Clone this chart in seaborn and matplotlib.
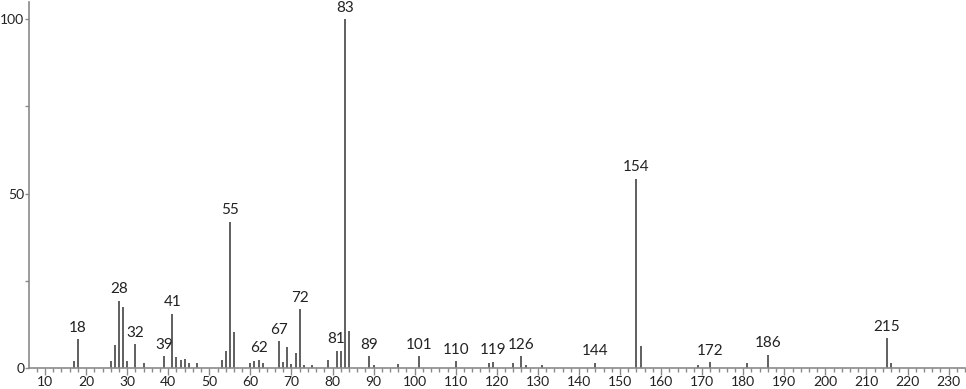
import matplotlib
matplotlib.use("Agg")
import matplotlib.pyplot as plt
import seaborn as sns
import numpy as np
import pandas as pd
from matplotlib.ticker import MultipleLocator

mz = [17, 18, 26, 27, 28, 29, 30, 32, 34, 39, 41, 42, 43, 44, 45, 47,
      53, 54, 55, 56, 60, 61, 62, 63, 67, 68, 69, 70, 71, 72, 73, 75,
      79, 81, 82, 83, 84, 89, 90, 96, 101, 110, 118, 119, 124, 126, 127, 131,
      144, 154, 155, 169, 172, 181, 186, 215, 216]
intensity = [2.0, 8.3, 2.0, 6.6, 19.2, 17.5, 2.0, 6.8, 1.4, 3.3, 15.6, 3.1, 2.3, 2.5, 1.4, 1.4,
             2.2, 5.0, 41.9, 10.2, 1.5, 2.0, 2.3, 1.3, 7.6, 1.6, 6.0, 1.2, 4.3, 16.8, 1.0, 1.0,
             2.3, 4.9, 4.9, 100.0, 10.6, 3.4, 1.0, 1.1, 3.4, 1.9, 1.4, 1.8, 1.4, 3.4, 1.0, 1.0,
             1.5, 54.3, 6.2, 1.0, 1.6, 1.4, 3.8, 8.5, 1.4]
labeled = [18, 28, 32, 39, 41, 55, 62, 67, 72, 81, 83, 89, 101, 110, 119, 126,
           144, 154, 172, 186, 215]

df = pd.DataFrame({"mz": mz, "intensity": intensity})

sns.set_style("ticks")
plt.rcParams['font.family'] = ['Lato', 'DejaVu Sans']

fig = plt.figure(figsize=(9.66, 3.89), dpi=100)
ax = fig.add_axes([29 / 966, 21 / 389, 936 / 966, 366 / 389])

bar_color = "#5f5f5f"
ax.vlines(df["mz"], 0, df["intensity"], color=bar_color, linewidth=1.4)

for m, v in zip(df["mz"], df["intensity"]):
    if m in labeled:
        ax.text(m, v + 1.3, str(m), ha="center", va="bottom",
                fontsize=11, color="#222222")

ax.set_xlim(6.1, 234)
ax.set_ylim(0, 104.9)

ax.xaxis.set_major_locator(MultipleLocator(10))
ax.xaxis.set_minor_locator(MultipleLocator(2))
ax.yaxis.set_major_locator(MultipleLocator(50))
ax.yaxis.set_minor_locator(MultipleLocator(25))

sns.despine(ax=ax, top=True, right=True)
axis_col = "#8a8a8a"
for s in ["left", "bottom"]:
    ax.spines[s].set_color(axis_col)
    ax.spines[s].set_linewidth(1.2)

ax.tick_params(axis="x", which="major", length=5, width=1, color=axis_col,
               labelsize=10, labelcolor="#222222", pad=1)
ax.tick_params(axis="y", which="major", length=3, width=1, color=axis_col,
               labelsize=10, labelcolor="#222222", pad=0.5)
ax.tick_params(axis="both", which="minor", length=3, width=1, color=axis_col)
ax.set_xlabel("")
ax.set_ylabel("")

fig.savefig("out.png", dpi=100)
